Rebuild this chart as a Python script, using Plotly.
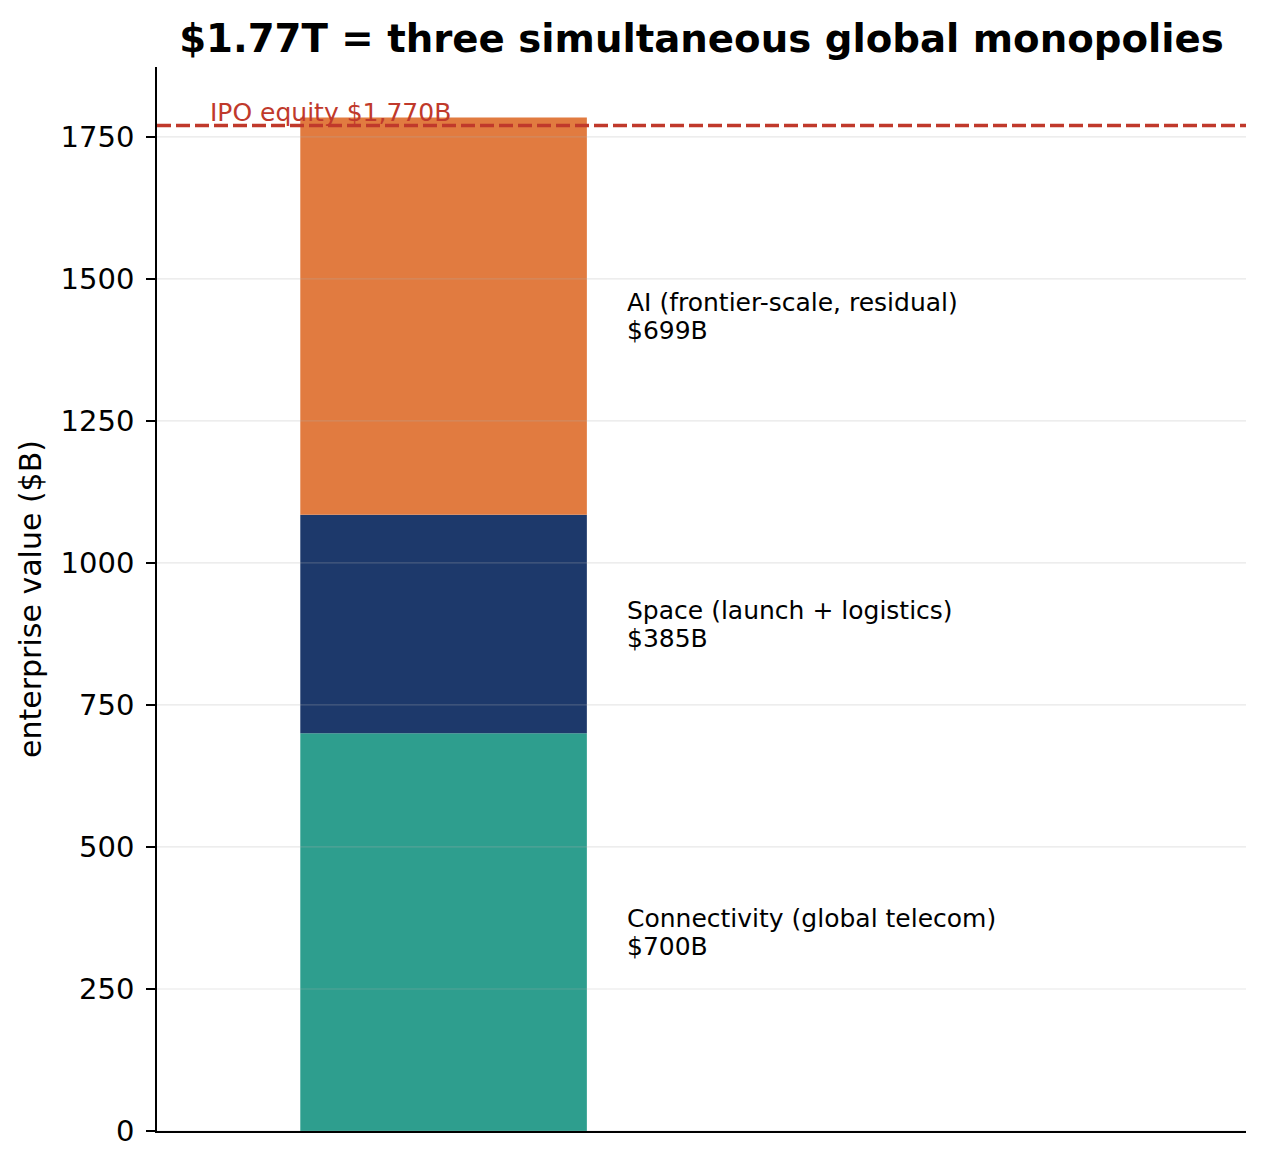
import plotly.graph_objects as go

# ---- data ----
segments = ["Connectivity (global telecom)", "Space (launch + logistics)", "AI (frontier-scale, residual)"]
values = [700, 385, 699]
value_labels = ["$700B", "$385B", "$699B"]
colors = ["#2E9E8E", "#1D396B", "#E17B40"]
ipo_value = 1770
ipo_label = "IPO equity $1,770B"
y_ticks = [0, 250, 500, 750, 1000, 1250, 1500, 1750]
title = "$1.77T = three simultaneous global monopolies"
y_title = "enterprise value ($B)"

FONT = "DejaVu Sans"

fig = go.Figure()
base = 0
annotations = []
for name, v, lab, c in zip(segments, values, value_labels, colors):
    fig.add_trace(go.Bar(x=[0], y=[v], base=[base], width=0.5, marker=dict(color=c, line=dict(width=0)),
                         name=name, showlegend=False, hoverinfo="skip"))
    for txt, shift in ((name, 14), (lab, -14)):
        annotations.append(dict(x=0.3165, y=base + v / 2, xref="x", yref="y", text=txt, yshift=shift,
                                showarrow=False, xanchor="left", yanchor="middle", align="left",
                                font=dict(family=FONT, size=25, color="black")))
    base += v

annotations.append(dict(x=-0.411, y=ipo_value, xref="x", yref="y", text=ipo_label, showarrow=False,
                        xanchor="left", yanchor="bottom", yshift=-3,
                        font=dict(family=FONT, size=25, color="#C0392B")))

shapes = []
for t in y_ticks:
    shapes.append(dict(type="line", xref="paper", yref="y", x0=0, x1=1, y0=t, y1=t,
                       line=dict(color="rgba(176,176,176,0.3)", width=1.2), layer="above"))
shapes.append(dict(type="line", xref="paper", yref="y", x0=0, x1=1, y0=ipo_value, y1=ipo_value,
                   line=dict(color="#C0392B", width=3.4, dash="14px,5px"), layer="above"))

fig.update_layout(
    width=1266, height=1168,
    margin=dict(l=157, r=20, t=67, b=37),
    paper_bgcolor="white", plot_bgcolor="white",
    barmode="overlay",
    title=dict(text=f"<b>{title}</b>", x=0.5, xref="paper", xanchor="center", y=1 - 38 / 1168, yanchor="middle",
               font=dict(family=FONT, size=38.7, color="black")),
    xaxis=dict(range=[-0.5, 1.4], showticklabels=False, ticks="", showgrid=False, zeroline=False,
               showline=True, linecolor="black", linewidth=1.6, fixedrange=True),
    yaxis=dict(range=[0, 1873], tickvals=y_ticks, ticks="outside", ticklen=9, tickwidth=1.6, tickcolor="black",
               ticklabelstandoff=6,
               showgrid=False, zeroline=False, showline=True, linecolor="black", linewidth=1.6,
               tickfont=dict(family=FONT, size=29, color="black"),
               title=dict(text=y_title, font=dict(family=FONT, size=30, color="black"), standoff=10)),
    annotations=annotations,
    shapes=shapes,
    font=dict(family=FONT),
)

fig.write_html("out.html")
